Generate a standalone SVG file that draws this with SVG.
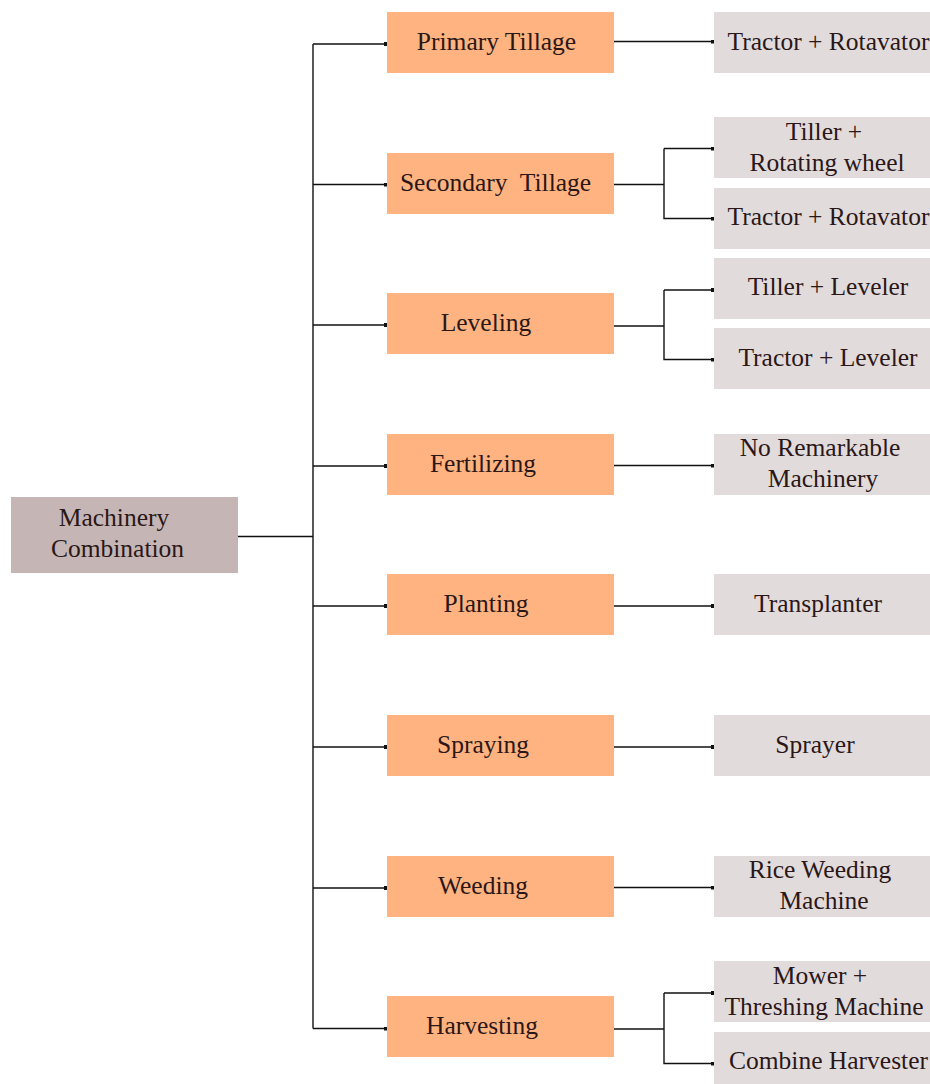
<svg xmlns="http://www.w3.org/2000/svg" width="930" height="1084" viewBox="0 0 930 1084">
<style>
.t{font-family:'Liberation Serif','Times New Roman',serif;font-size:25.5px;fill:#2b1717;text-anchor:middle}
.o{fill:#ffb380}
.g{fill:#e2dbdc}
.r{fill:#c5b6b5}
.c{fill:none;stroke:#111;stroke-width:1.4}
</style>
<defs>
<marker id="m" viewBox="0 0 4 4" refX="3" refY="2" markerWidth="4" markerHeight="4" markerUnits="userSpaceOnUse" orient="auto">
<rect x="0" y="0" width="4" height="4" fill="#111"/>
</marker>
</defs>
<rect width="930" height="1084" fill="#fff"/>
<g id="connectors">
<path class="c" d="M238 536.5H313"/>
<path class="c" d="M313 44V1028.5"/>
<path class="c" marker-end="url(#m)" d="M313 44H387"/>
<path class="c" marker-end="url(#m)" d="M313 184.5H387"/>
<path class="c" marker-end="url(#m)" d="M313 325H387"/>
<path class="c" marker-end="url(#m)" d="M313 466H387"/>
<path class="c" marker-end="url(#m)" d="M313 606H387"/>
<path class="c" marker-end="url(#m)" d="M313 747H387"/>
<path class="c" marker-end="url(#m)" d="M313 888H387"/>
<path class="c" marker-end="url(#m)" d="M313 1028.5H387"/>
<path class="c" marker-end="url(#m)" d="M614 41.5H714"/>
<path class="c" d="M614 184.5H664"/>
<path class="c" marker-end="url(#m)" d="M664 148.5V218.5H714"/>
<path class="c" marker-end="url(#m)" d="M664 148.5H714"/>
<path class="c" d="M614 326H664"/>
<path class="c" marker-end="url(#m)" d="M664 290V359.5H714"/>
<path class="c" marker-end="url(#m)" d="M664 290H714"/>
<path class="c" marker-end="url(#m)" d="M614 465.5H714"/>
<path class="c" marker-end="url(#m)" d="M614 606H714"/>
<path class="c" marker-end="url(#m)" d="M614 747H714"/>
<path class="c" marker-end="url(#m)" d="M614 887.5H714"/>
<path class="c" d="M614 1029H664"/>
<path class="c" marker-end="url(#m)" d="M664 993V1063.5H714"/>
<path class="c" marker-end="url(#m)" d="M664 993H714"/>
</g>
<g id="root">
<rect class="r" x="11" y="497" width="227" height="76"/>
<text class="t" x="114" y="526">Machinery</text>
<text class="t" x="117.5" y="557">Combination</text>
</g>
<g id="primary-tillage">
<rect class="o" x="387" y="12" width="227" height="61"/>
<text class="t" x="496.5" y="49.5">Primary Tillage</text>
</g>
<g id="secondary-tillage">
<rect class="o" x="387" y="153" width="227" height="61"/>
<text class="t" x="495.5" y="190.5">Secondary&#160; Tillage</text>
</g>
<g id="leveling">
<rect class="o" x="387" y="293" width="227" height="61"/>
<text class="t" x="486" y="330.5">Leveling</text>
</g>
<g id="fertilizing">
<rect class="o" x="387" y="434" width="227" height="61"/>
<text class="t" x="483" y="471.5">Fertilizing</text>
</g>
<g id="planting">
<rect class="o" x="387" y="574" width="227" height="61"/>
<text class="t" x="486" y="611.5">Planting</text>
</g>
<g id="spraying">
<rect class="o" x="387" y="715" width="227" height="61"/>
<text class="t" x="483" y="752.5">Spraying</text>
</g>
<g id="weeding">
<rect class="o" x="387" y="856" width="227" height="61"/>
<text class="t" x="483" y="893.5">Weeding</text>
</g>
<g id="harvesting">
<rect class="o" x="387" y="996" width="227" height="61"/>
<text class="t" x="482" y="1033.5">Harvesting</text>
</g>
<g id="tractor-rotavator-1">
<rect class="g" x="714" y="12" width="216" height="61"/>
<text class="t" x="828.5" y="49.5">Tractor + Rotavator</text>
</g>
<g id="tiller-rotating-wheel">
<rect class="g" x="714" y="117" width="216" height="61"/>
<text class="t" x="824" y="140">Tiller +</text>
<text class="t" x="827" y="171">Rotating wheel</text>
</g>
<g id="tractor-rotavator-2">
<rect class="g" x="714" y="188" width="216" height="61"/>
<text class="t" x="828.5" y="225">Tractor + Rotavator</text>
</g>
<g id="tiller-leveler">
<rect class="g" x="714" y="258" width="216" height="61"/>
<text class="t" x="828" y="295">Tiller + Leveler</text>
</g>
<g id="tractor-leveler">
<rect class="g" x="714" y="328" width="216" height="61"/>
<text class="t" x="828" y="366">Tractor + Leveler</text>
</g>
<g id="no-remarkable">
<rect class="g" x="714" y="434" width="216" height="61"/>
<text class="t" x="820" y="456">No Remarkable</text>
<text class="t" x="823" y="487">Machinery</text>
</g>
<g id="transplanter">
<rect class="g" x="714" y="574" width="216" height="61"/>
<text class="t" x="818" y="612">Transplanter</text>
</g>
<g id="sprayer">
<rect class="g" x="714" y="715" width="216" height="61"/>
<text class="t" x="815" y="753">Sprayer</text>
</g>
<g id="rice-weeding">
<rect class="g" x="714" y="856" width="216" height="61"/>
<text class="t" x="820" y="878">Rice Weeding</text>
<text class="t" x="824" y="909">Machine</text>
</g>
<g id="mower-threshing">
<rect class="g" x="714" y="961" width="216" height="61"/>
<text class="t" x="820" y="984">Mower +</text>
<text class="t" x="824" y="1015">Threshing Machine</text>
</g>
<g id="combine-harvester">
<rect class="g" x="714" y="1032" width="216" height="52"/>
<text class="t" x="828.5" y="1069">Combine Harvester</text>
</g>
</svg>
